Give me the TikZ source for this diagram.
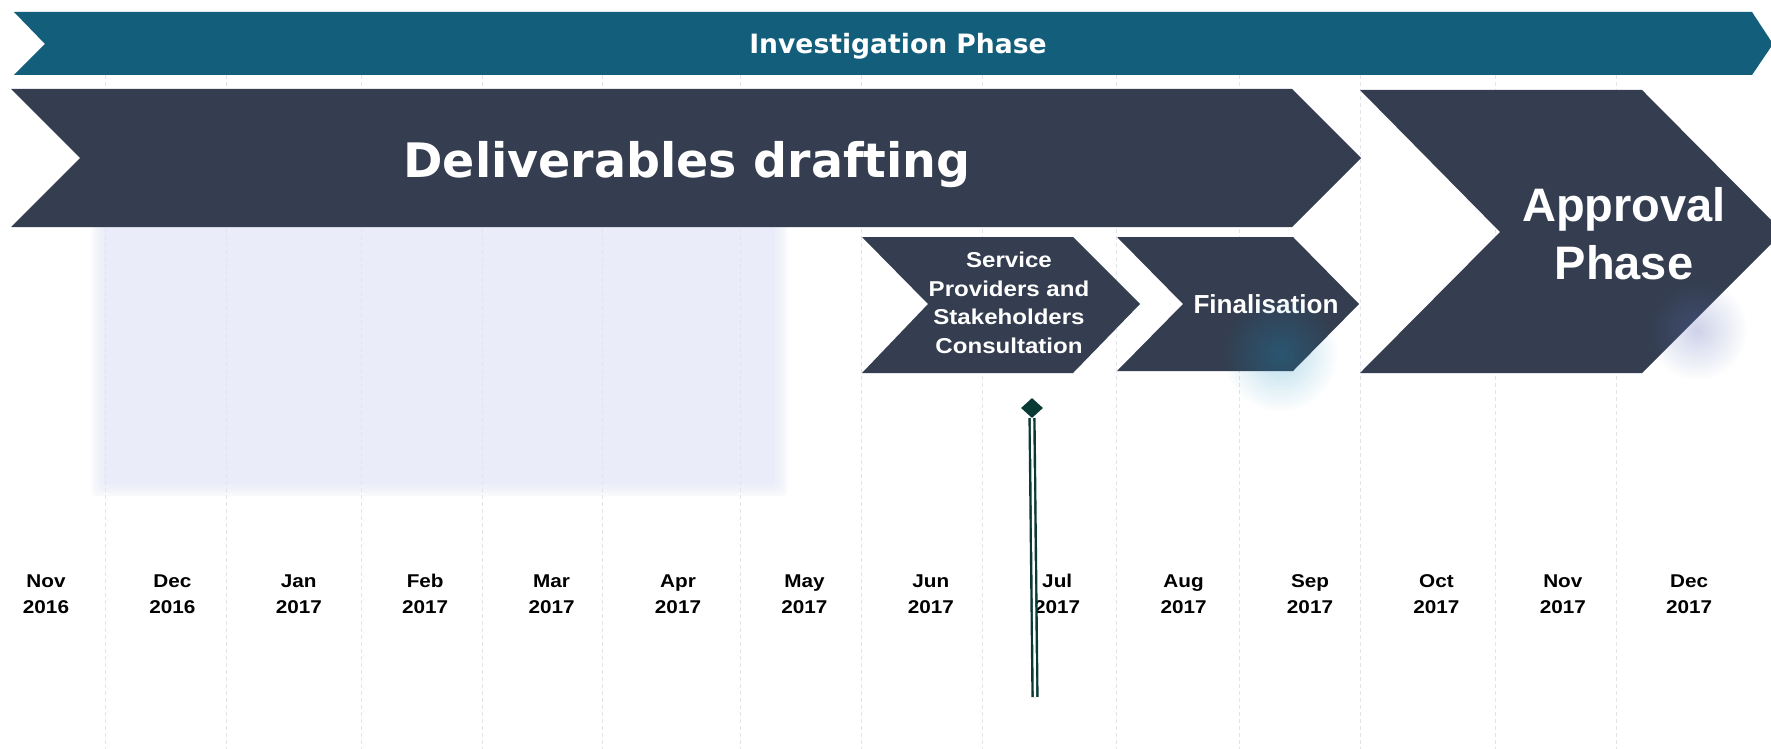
\documentclass[tikz,border=0pt]{standalone}
\usepackage{fontspec}
\setmainfont{Liberation Sans}
\newfontfamily\verdanafont{DejaVu Sans}
\newfontfamily\widefont{Liberation Sans}[FakeStretch=1.12]
\usetikzlibrary{shapes.geometric,fadings}
\definecolor{invblue}{HTML}{135F7B}
\definecolor{darkslate}{HTML}{343E50}
\definecolor{shadowblue}{HTML}{EAEDF9}
\definecolor{gridgray}{HTML}{E2E4EC}
\definecolor{milegreen}{HTML}{0A3A36}
\definecolor{glowcyan}{RGB}{20,142,188}
\definecolor{glowlav}{RGB}{91,108,184}
\tikzfading[name=softglow, inner color=transparent!0, outer color=transparent!100]
\tikzset{
  chev/.style={fill=darkslate},
  gridline/.style={draw=gridgray, line width=0.9pt, dash pattern=on 4pt off 3pt},
  whitetext/.style={text=white, inner sep=0pt, font=\bfseries},
  monthtext/.style={text=black, inner sep=0pt, anchor=base, font=\widefont\bfseries\fontsize{18.5}{22}\selectfont},
  milestone/.style={draw=milegreen, line width=2.4pt, double=white, double distance=2.4pt},
  mileshape/.style={diamond, fill=milegreen, inner sep=0pt, minimum width=22pt, minimum height=20pt},
  glow/.style={fill=#1, opacity=0.3, path fading=softglow}
}
\begin{document}
\begin{tikzpicture}[x=1pt,y=-1pt]
\useasboundingbox (0,0) rectangle (1771,749);
\clip (0,0) rectangle (1771,749);
\fill[white] (0,0) rectangle (1771,749);

% soft light-blue panel
\foreach \d in {12,9,6,3}
  \fill[shadowblue, opacity=0.3, rounded corners=6pt] (104-\d,227-\d) rectangle (775+\d,484+\d);
\fill[shadowblue] (104,227) rectangle (775,484);

% grid lines
\foreach \gx in {105,226,361,482,602,740,861,982,1116,1239,1360,1495,1616}
  \draw[gridline] (\gx,75) -- (\gx,749);

% Investigation phase banner
\fill[invblue] (14,12) -- (1752,12) -- (1773,44) -- (1752,75) -- (14,75) -- (45,44) -- cycle;
\node[whitetext, anchor=base, font=\verdanafont\bfseries\fontsize{26.6}{30}\selectfont] (inv) at (898,54) {Investigation Phase};

% Deliverables drafting
\fill[chev] (11,89) -- (1292,89) -- (1361,158) -- (1292,227) -- (11,227) -- (80,158) -- cycle;
\node[whitetext, anchor=base, font=\verdanafont\bfseries\fontsize{47.5}{56}\selectfont] (deliv) at (687,177) {Deliverables drafting};

% Service providers
\fill[chev] (862,237) -- (1073,237) -- (1140,304) -- (1073,373) -- (862,373) -- (928,304) -- cycle;
\node[whitetext, align=center, font=\widefont\bfseries\fontsize{21.5}{28.5}\selectfont] (spsc) at (1009,303) {Service\\Providers and\\Stakeholders\\Consultation};

% Finalisation
\fill[chev] (1117,237) -- (1293,237) -- (1359,304) -- (1293,371) -- (1117,371) -- (1183,304) -- cycle;
\node[whitetext, anchor=base, font=\bfseries\fontsize{26.1}{30}\selectfont] (fin) at (1266,313) {Finalisation};

% Approval phase
\fill[chev] (1360,90) -- (1642,90) -- (1783,232) -- (1642,373) -- (1360,373) -- (1500,232) -- cycle;
\node[whitetext, align=center, font=\bfseries\fontsize{47}{58}\selectfont] (appr) at (1624,234) {Approval\\Phase};

% glows
\fill[glow=glowcyan] (1280,354) circle (58);
\fill[glow=glowlav] (1697,330) circle (50);

% months
\foreach \m/\yr [count=\i from 0] in {Nov/2016,Dec/2016,Jan/2017,Feb/2017,Mar/2017,Apr/2017,May/2017,Jun/2017,Jul/2017,Aug/2017,Sep/2017,Oct/2017,Nov/2017,Dec/2017} {
  \node[monthtext] (m\i) at ({46+126.4*\i},587) {\m};
  \node[monthtext] (y\i) at ({46+126.4*\i},613) {\yr};
}

% milestone
\node[mileshape] (ms) at (1032,408) {};
\coordinate (msend) at (1035,697);
\draw[milestone] (ms.south) -- (msend);
\end{tikzpicture}
\end{document}
